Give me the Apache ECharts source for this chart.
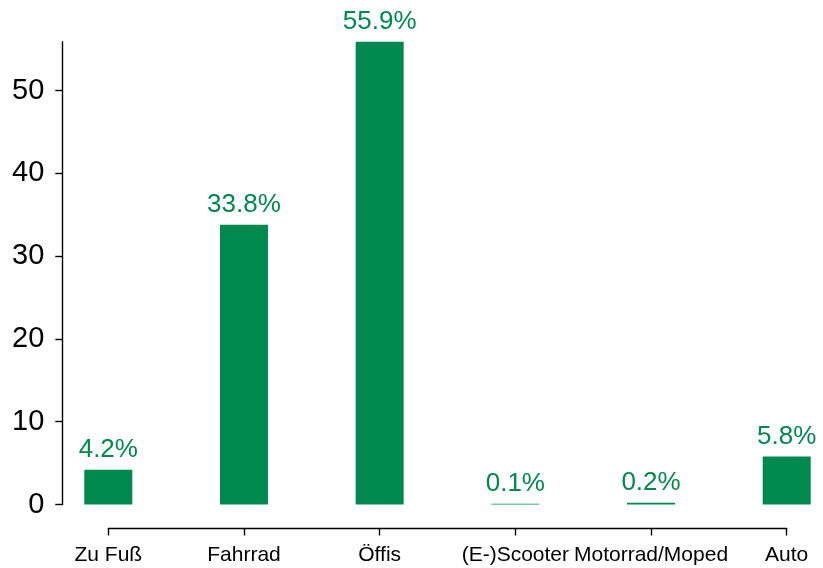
<!DOCTYPE html>
<html>
<head>
<meta charset="utf-8">
<script src="https://cdn.jsdelivr.net/npm/echarts@6/dist/echarts.min.js"></script>
<style>
html,body{margin:0;padding:0;background:#fff;}
#chart{width:823px;height:568px;}
</style>
</head>
<body>
<div id="chart"></div>
<script>
const categories = ['Zu Fuß', 'Fahrrad', 'Öffis', '(E-)Scooter', 'Motorrad/Moped', 'Auto'];
const shares = [4.2, 33.8, 55.9, 0.1, 0.2, 5.8];
const yTicks = [0, 10, 20, 30, 40, 50];

const green = '#00894E';
const chart = echarts.init(document.getElementById('chart'));
chart.setOption({
  animation: false,
  textStyle: { fontFamily: 'Liberation Sans, Arial, sans-serif' },
  grid: { left: 108.3, width: 678.4, top: 41.7, bottom: 63.5 },
  xAxis: {
    type: 'category',
    data: categories,
    boundaryGap: false,
    offset: 24,
    axisLine: { onZero: false, lineStyle: { color: '#000', width: 1.4 } },
    axisTick: { length: 7, lineStyle: { color: '#000', width: 1.4 } },
    axisLabel: { color: '#000', fontSize: 21, margin: 16, interval: 0 }
  },
  yAxis: {
    type: 'value',
    min: 0,
    max: 55.9,
    interval: 10,
    offset: 46,
    splitLine: { show: false },
    axisLine: { show: true, lineStyle: { color: '#000', width: 1.4 } },
    axisTick: { show: true, length: 7, customValues: yTicks, lineStyle: { color: '#000', width: 1.4 } },
    axisLabel: { color: '#000', fontSize: 29, margin: 18, customValues: yTicks }
  },
  series: [{
    type: 'bar',
    data: shares,
    barWidth: 48,
    clip: false,
    itemStyle: { color: green },
    label: {
      show: true,
      position: 'top',
      distance: 7,
      color: green,
      fontSize: 26,
      formatter: p => p.value.toFixed(1) + '%'
    }
  }]
});
</script>
</body>
</html>
